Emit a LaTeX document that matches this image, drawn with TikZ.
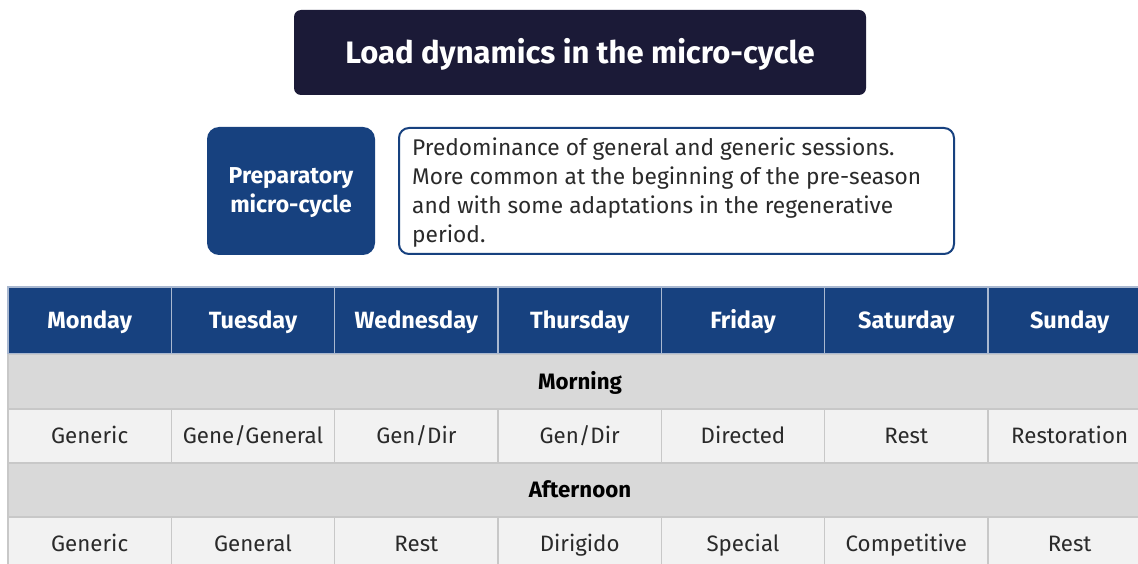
\documentclass[tikz,border=0pt]{standalone}
\usepackage{fontspec}
\setmainfont{Fira Sans}
\definecolor{navy}{HTML}{1B1A37}
\definecolor{blueA}{HTML}{17417F}
\definecolor{bandc}{HTML}{D9D9D9}
\definecolor{rowc}{HTML}{F2F2F2}
\definecolor{gridc}{HTML}{C8C8C8}
\definecolor{headline}{HTML}{A9B8D0}
\definecolor{textc}{HTML}{2A2A2A}
\begin{document}
\begin{tikzpicture}[x=1pt,y=-1pt,
  titlebox/.style={fill=navy, rounded corners=7pt, minimum width=572pt, minimum height=85pt, inner sep=0pt, text=white, text height=21.5pt, text depth=0pt, font=\fontsize{31}{36}\selectfont\bfseries},
  prepbox/.style={fill=blueA, rounded corners=12pt, minimum width=168pt, minimum height=128pt, inner sep=0pt},
  preptext/.style={inner sep=0pt, text=white, align=center, font=\fontsize{23}{29}\selectfont\bfseries},
  descbox/.style={draw=blueA, line width=2pt, fill=white, rounded corners=10pt, minimum width=555pt, minimum height=126pt, inner sep=0pt},
  desctext/.style={inner sep=0pt, align=left, anchor=west, text=textc, font=\fontsize{22.7}{29}\selectfont},
  cell/.style={draw=gridc, line width=1.3pt, fill=rowc, minimum width=163.33pt, minimum height=54pt, inner sep=0pt, text=textc, text height=15.5pt, text depth=0pt, font=\fontsize{22.3}{26}\selectfont},
  headcell/.style={cell, fill=blueA, draw=headline, text=white, minimum height=67pt, text height=16.3pt, font=\fontsize{23.5}{27}\selectfont\bfseries},
  band/.style={draw=gridc, line width=1.3pt, fill=bandc, minimum width=1144pt, minimum height=54pt, inner sep=0pt, text=black, text height=15.5pt, text depth=0pt, font=\fontsize{22.3}{26}\selectfont\bfseries}]
\useasboundingbox (0,0) rectangle (1138,564);
\clip (0,0) rectangle (1138,564);
\node[titlebox] (title) at (580,52.5) {Load dynamics in the micro-cycle};
\node[prepbox] (prep) at (291,191) {};
\node[preptext] (preptxt) at (291,192.5) {Preparatory\\micro-cycle};
\node[descbox] (desc) at (676.5,191) {};
\node[desctext] (desctxt) at (412,193) {Predominance of general and generic sessions.\\More common at the beginning of the pre-season\\and with some adaptations in the regenerative\\period.};
% header
\foreach \d [count=\i from 0] in {Monday,Tuesday,Wednesday,Thursday,Friday,Saturday,Sunday}
  \node[headcell] (h\i) at ({8+163.33*(\i+0.5)},320.5) {\d};
\node[band] (morning) at (580,381.5) {Morning};
\foreach \d [count=\i from 0] in {Generic,Gene/General,Gen/Dir,Gen/Dir,Directed,Rest,Restoration}
  \node[cell] (m\i) at ({8+163.33*(\i+0.5)},436) {\d};
\node[band] (afternoon) at (580,490) {Afternoon};
\foreach \d [count=\i from 0] in {Generic,General,Rest,Dirigido,Special,Competitive,Rest}
  \node[cell] (a\i) at ({8+163.33*(\i+0.5)},544) {\d};
\end{tikzpicture}
\end{document}
